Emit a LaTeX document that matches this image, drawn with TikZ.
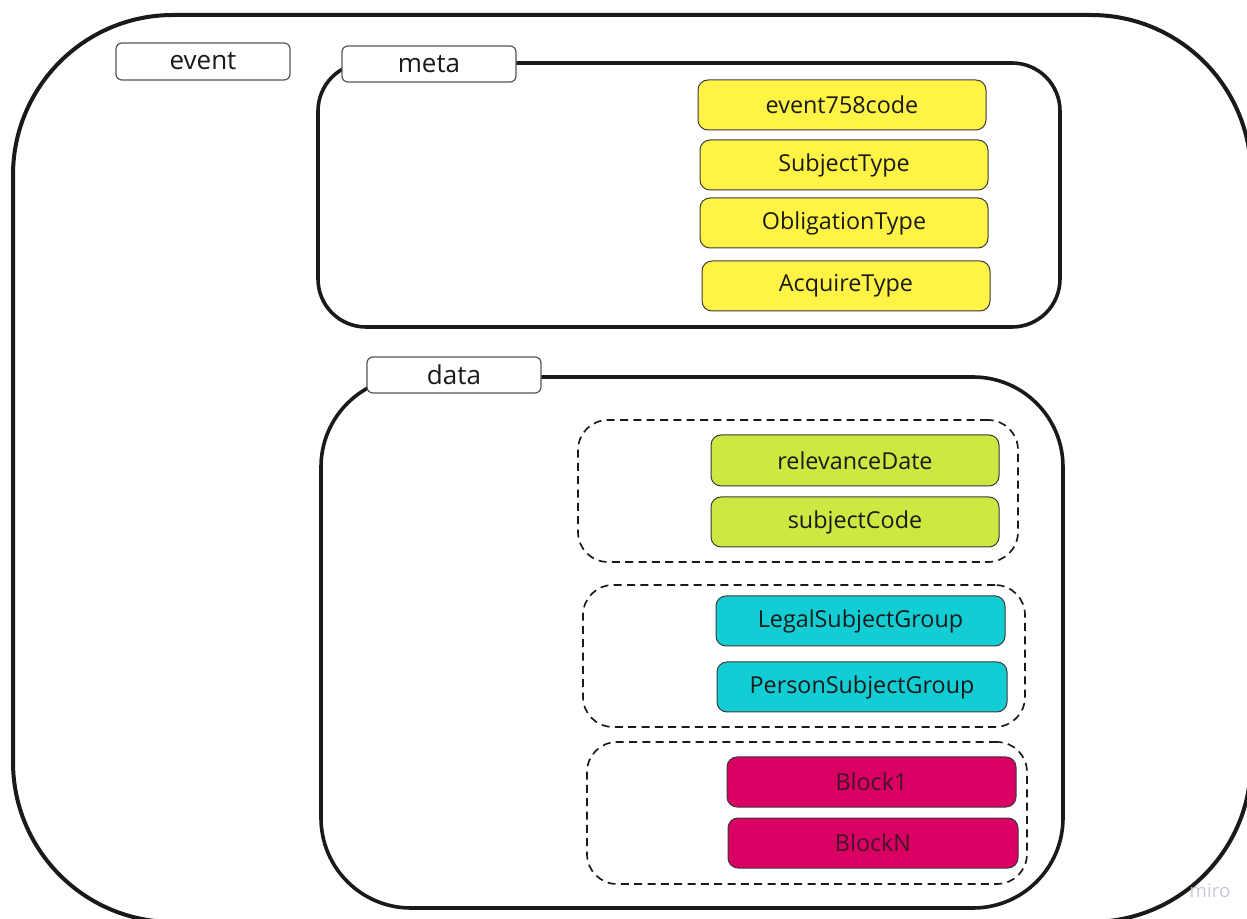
\documentclass[tikz,border=0pt]{standalone}
\usepackage{fontspec}
\setmainfont{Open Sans}
\definecolor{ink}{HTML}{1A1A1A}
\definecolor{boxline}{HTML}{3A3A3A}
\definecolor{tagline}{HTML}{555555}
\definecolor{yel}{HTML}{FFF445}
\definecolor{grn}{HTML}{CEE741}
\definecolor{cyn}{HTML}{12CDD4}
\definecolor{mag}{HTML}{DA0063}
\definecolor{wmark}{HTML}{C8C8D8}
\begin{document}
\begin{tikzpicture}[x=0.75pt,y=-0.75pt,
  outerbox/.style={draw=ink, line width=3pt, rounded corners=120pt, inner sep=0pt, outer sep=0pt},
  container/.style={draw=ink, line width=2.7pt, inner sep=0pt, outer sep=0pt},
  tag/.style={draw=tagline, fill=white, line width=0.9pt, rounded corners=4.5pt,
    minimum width=130.5pt, minimum height=27pt, inner sep=0pt, text=ink,
    font=\fontsize{19.5pt}{23pt}\selectfont},
  group/.style={draw=ink, line width=1.25pt, dash pattern=on 6pt off 4pt,
    rounded corners=22.5pt, minimum height=106.5pt, inner sep=0pt},
  item/.style={draw=boxline, line width=0.75pt, rounded corners=7.5pt,
    minimum width=216pt, minimum height=37.5pt, inner sep=0pt, text=ink,
    font=\fontsize{17.5pt}{21pt}\selectfont},
  ybox/.style={item, fill=yel},
  gbox/.style={item, fill=grn},
  cbox/.style={item, fill=cyn},
  mbox/.style={item, fill=mag, text=ink!80!mag}
]
\useasboundingbox (0,0) rectangle (1247,919);

% outer event container
\node[outerbox, minimum width=928.5pt, minimum height=680.25pt] (eventbox) at (632,468.5) {};

% meta and data containers
\node[container, rounded corners=36pt, minimum width=556.5pt, minimum height=198pt] (metabox) at (689,195) {};
\node[container, rounded corners=67.5pt, minimum width=556.5pt, minimum height=398.25pt] (databox) at (692,642.5) {};

% tags
\node[tag, minimum height=27.75pt] (eventtag) at (203,61.5) {event};
\node[tag] (metatag) at (429,64) {meta};
\node[tag] (datatag) at (454,375) {data};

% meta items
\node[ybox] (e758) at (842,105) {event758code};
\node[ybox] (subjtype) at (844,165) {SubjectType};
\node[ybox] (obligtype) at (844,223) {ObligationType};
\node[ybox] (acqtype) at (846,286) {AcquireType};

% dashed groups
\node[group, minimum width=330pt] (grp1) at (798,491) {};
\node[group, minimum width=331.5pt] (grp2) at (804,656) {};
\node[group, minimum width=330pt] (grp3) at (807,813) {};

% data items
\node[gbox, minimum height=38.25pt] (reldate) at (855,460.5) {relevanceDate};
\node[gbox] (subjcode) at (855,522) {subjectCode};
\node[cbox, minimum width=216.75pt] (legal) at (860.5,621) {LegalSubjectGroup};
\node[cbox, minimum width=217.5pt] (person) at (862,687) {PersonSubjectGroup};
\node[mbox, minimum width=216.75pt] (block1) at (871.5,782) {Block1};
\node[mbox, minimum width=217.5pt] (blockn) at (873,843) {BlockN};

% watermark
\node[text=wmark, font=\fontsize{14pt}{16pt}\selectfont, inner sep=0pt] (miro) at (1210,891) {miro};
\end{tikzpicture}
\end{document}
